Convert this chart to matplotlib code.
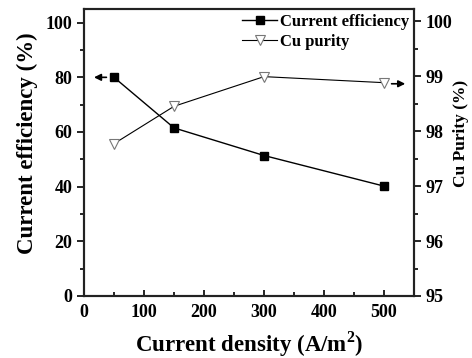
import numpy as np
import matplotlib
matplotlib.use('Agg')
import matplotlib.pyplot as plt

density = [50, 150, 300, 500]
efficiency = [80, 61.5, 51.4, 40.2]
purity = [97.77, 98.45, 98.99, 98.88]

plt.rcParams['font.family'] = ['Liberation Serif', 'DejaVu Serif']
plt.rcParams['font.weight'] = 'bold'
plt.rcParams['mathtext.fontset'] = 'custom'
plt.rcParams['mathtext.rm'] = 'Liberation Serif:bold'

fig = plt.figure(figsize=(4.72, 3.58), dpi=100)
ax = fig.add_axes([84/472, 1-296/358, 330/472, 287/358])
ax2 = ax.twinx()

l1, = ax.plot(density, efficiency, '-', color='k', lw=1, marker='s', ms=5.5,
              mfc='k', mec='k', label='Current efficiency')
l2, = ax2.plot(density, purity, '-', color='k', lw=0.8, marker='v', ms=6.5,
               mfc='white', mec='#777777', mew=0.8, label='Cu purity')

ax.set_xlim(0, 550)
ax.set_ylim(0, 105)
ax2.set_ylim(95, 100.22)

ax.set_xticks([0, 100, 200, 300, 400, 500])
ax.set_xticks(np.arange(50, 550, 100), minor=True)
ax.set_yticks([0, 20, 40, 60, 80, 100])
ax.set_yticks(np.arange(10, 110, 20), minor=True)
ax2.set_yticks([95, 96, 97, 98, 99, 100])
ax2.set_yticks(np.arange(95.5, 100.5, 1), minor=True)

ax.tick_params(axis='x', which='both', direction='in', labelsize=13, width=1.2)
ax.tick_params(axis='x', which='major', length=4)
ax.tick_params(axis='x', which='minor', length=3)
ax.tick_params(axis='y', which='both', direction='out', labelsize=13, width=1.2)
ax.tick_params(axis='y', which='major', length=5)
ax.tick_params(axis='y', which='minor', length=3)
ax2.tick_params(axis='y', which='both', direction='out', labelsize=13, width=1.2)
ax2.tick_params(axis='y', which='major', length=5)
ax2.tick_params(axis='y', which='minor', length=3)
ax.tick_params(axis='x', pad=6)

for a in (ax, ax2):
    for s in a.spines.values():
        s.set_linewidth(1.5)
        s.set_color('#222222')

ax.set_xlabel('Current density (A/m$^2$)', fontsize=16.5, fontweight='bold', labelpad=6)
ax.set_ylabel('Current efficiency (%)', fontsize=16.5, fontweight='bold', labelpad=5.5)
ax2.set_ylabel('Cu Purity (%)', fontsize=12.5, fontweight='bold', labelpad=0)
ax.yaxis.label.set_y(0.533)
ax2.yaxis.label.set_y(0.568)

ax.annotate('', xy=(12, 80), xytext=(42, 80),
            arrowprops=dict(arrowstyle='-|>', color='k', lw=1.2, mutation_scale=10))
ax2.annotate('', xy=(540, 98.86), xytext=(508, 98.86),
             arrowprops=dict(arrowstyle='-|>', color='k', lw=1.2, mutation_scale=10))

ax.legend(handles=[l1, l2], loc='upper right', frameon=False, fontsize=12,
          handlelength=2.1, handletextpad=0.15, borderaxespad=0.1, labelspacing=0.25,
          borderpad=0.2)

fig.savefig('out.png', dpi=100)
